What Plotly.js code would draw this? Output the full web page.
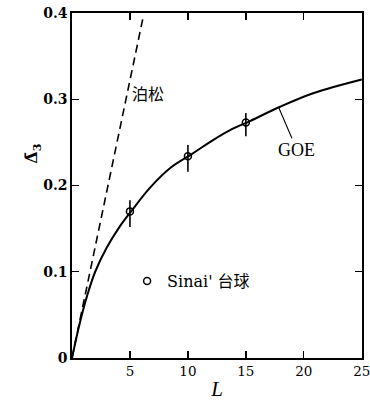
<!DOCTYPE html>
<html>
<head>
<meta charset="utf-8">
<script src="https://cdn.plot.ly/plotly-3.0.1.min.js"></script>
<style>html,body{margin:0;padding:0;background:#fff;}#chart{width:370px;height:401px;}</style>
</head>
<body>
<div id="chart"></div>
<script>
// GOE curve
var goeL = [0, 0.7, 1.3, 2.0, 3.0, 4.1, 5.1, 6.7, 8.45, 10.4, 12.2, 13.6, 15.4, 17.9, 20.8, 25];
var goeD = [0, 0.042, 0.072, 0.100, 0.128, 0.152, 0.170, 0.197, 0.220, 0.237, 0.253, 0.264, 0.275, 0.291, 0.307, 0.323];
// Poisson line
var poisL = [0, 6.15];
var poisD = [0, 0.396];
// Sinai billiard points
var sinaiL = [5, 10, 15];
var sinaiD = [0.170, 0.234, 0.273];
var sinaiErrUp = [0.013, 0.013, 0.011];
var sinaiErrDown = [0.018, 0.018, 0.016];
// ticks
var xTicks = [5, 10, 15, 20, 25];
var xTickText = ['5', '10', '15', '20', '25'];
var yTicks = [0, 0.1, 0.2, 0.3, 0.4];
var yTickText = ['0', '0.1', '0.2', '0.3', '0.4'];

var traces = [
  {x: poisL, y: poisD, mode: 'lines', line: {color: '#000', width: 1.6, dash: '8px,5px'}, showlegend: false, hoverinfo: 'skip'},
  {x: goeL, y: goeD, mode: 'lines', line: {color: '#000', width: 2, shape: 'spline', smoothing: 1}, showlegend: false, hoverinfo: 'skip'},
  {x: sinaiL, y: sinaiD, mode: 'markers', name: "Sinai' 台球",
   marker: {symbol: 'circle-open', size: 7, color: '#000', line: {width: 1.5, color: '#000'}},
   error_y: {type: 'data', symmetric: false, array: sinaiErrUp, arrayminus: sinaiErrDown, width: 0, thickness: 1.6, color: '#000'},
   showlegend: true}
];

var axisCommon = {
  showline: true, linecolor: '#000', linewidth: 1.6, mirror: 'ticks',
  ticks: 'inside', ticklen: 7, tickwidth: 1.3, tickcolor: '#000',
  showgrid: false, zeroline: false, ticklabeloverflow: 'allow'
};

var layout = {
  width: 370, height: 401,
  margin: {l: 72, r: 8, t: 13, b: 43},
  paper_bgcolor: '#fff', plot_bgcolor: '#fff',
  xaxis: Object.assign({}, axisCommon, {
    range: [0, 25.02], tickvals: xTicks, ticktext: xTickText,
    tickfont: {family: 'DejaVu Serif', size: 13.5, color: '#000'},
    title: {text: '<i>L</i>', font: {family: 'Liberation Serif', size: 21, color: '#000'}, standoff: 5}
  }),
  yaxis: Object.assign({}, axisCommon, {
    range: [0, 0.4], tickvals: yTicks, ticktext: yTickText,
    tickfont: {family: 'DejaVu Serif', size: 14, color: '#000', weight: 'bold'}
  }),
  showlegend: true,
  legend: {x: 0.19, y: 0.223, xanchor: 'left', yanchor: 'middle', bgcolor: 'rgba(0,0,0,0)',
           font: {family: 'DejaVu Serif, Noto Sans CJK SC', size: 16, color: '#000'}},
  annotations: [
    {xref: 'x', yref: 'y', x: 6.55, y: 0.307, text: '泊松', showarrow: false,
     font: {family: 'Noto Sans CJK SC', size: 16, color: '#000'}},
    {xref: 'x', yref: 'y', x: 17.85, y: 0.290, text: 'GOE', showarrow: true,
     arrowhead: 0, arrowwidth: 1.2, arrowcolor: '#000', ax: 18, ay: 42, standoff: 0,
     font: {family: 'Liberation Serif', size: 18, color: '#000'}},
    {xref: 'paper', yref: 'paper', x: -0.179, y: 0.591, text: 'Δ̄<sub>3</sub>', showarrow: false,
     textangle: -90, font: {family: 'DejaVu Serif', size: 16, color: '#000', weight: 'bold'}}
  ]
};

Plotly.newPlot('chart', traces, layout, {displayModeBar: false, staticPlot: true});
</script>
</body>
</html>
